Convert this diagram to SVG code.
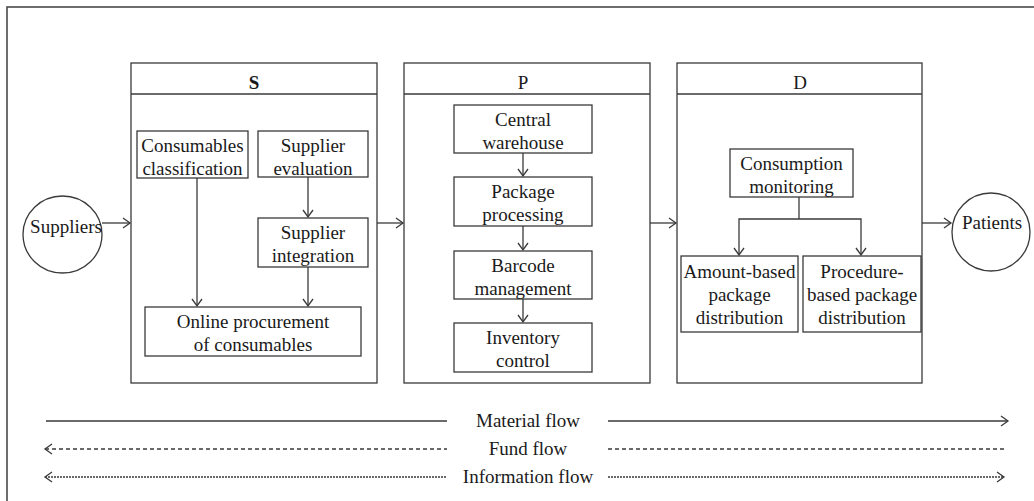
<svg xmlns="http://www.w3.org/2000/svg" width="1034" height="501" viewBox="0 0 1034 501">
<style>
.b{fill:#fff;stroke:#3a3a3a;stroke-width:1.3}
.t{font-family:"Liberation Serif","Times New Roman",serif;font-size:19px;fill:#1a1a1a;text-anchor:middle}
.c{fill:none;stroke:#3a3a3a;stroke-width:1.3}
.ar{marker-end:url(#ah)}
</style>
<defs>
<marker id="ah" markerUnits="userSpaceOnUse" markerWidth="12" markerHeight="12" refX="9" refY="6" orient="auto">
<path d="M2,1 L9,6 L2,11" fill="none" stroke="#3a3a3a" stroke-width="1.3"/>
</marker>
<marker id="ahs" markerUnits="userSpaceOnUse" markerWidth="12" markerHeight="12" refX="9" refY="6" orient="auto-start-reverse">
<path d="M2,1 L9,6 L2,11" fill="none" stroke="#3a3a3a" stroke-width="1.3"/>
</marker>
</defs>
<rect width="1034" height="501" fill="#fff"/>
<rect x="7" y="7" width="1040" height="510" fill="none" stroke="#4a4a4a" stroke-width="1.6"/>

<g id="suppliers">
<ellipse class="b" cx="62.5" cy="234.5" rx="39.5" ry="38.5"/>
<text class="t" x="66" y="233">Suppliers</text>
</g>
<g id="patients">
<ellipse class="b" cx="991" cy="232" rx="39" ry="39"/>
<text class="t" x="992" y="229">Patients</text>
</g>

<g id="panel-S">
<rect class="b" x="131" y="63" width="246" height="320"/>
<line class="c" x1="131" y1="94" x2="377" y2="94"/>
<text class="t" x="254" y="89" font-weight="bold">S</text>
</g>
<g id="panel-P">
<rect class="b" x="404" y="63" width="246" height="320"/>
<line class="c" x1="404" y1="94" x2="650" y2="94"/>
<text class="t" x="523" y="89">P</text>
</g>
<g id="panel-D">
<rect class="b" x="677" y="63" width="245" height="320"/>
<line class="c" x1="677" y1="94" x2="922" y2="94"/>
<text class="t" x="800" y="89">D</text>
</g>

<g id="consumables-classification">
<rect class="b" x="137" y="131" width="111" height="47"/>
<text class="t" x="192.5" y="152">Consumables</text>
<text class="t" x="192.5" y="175">classification</text>
</g>
<g id="supplier-evaluation">
<rect class="b" x="258" y="131" width="110" height="46"/>
<text class="t" x="313" y="152">Supplier</text>
<text class="t" x="313" y="175">evaluation</text>
</g>
<g id="supplier-integration">
<rect class="b" x="258" y="218" width="110" height="49"/>
<text class="t" x="313" y="239">Supplier</text>
<text class="t" x="313" y="262">integration</text>
</g>
<g id="online-procurement">
<rect class="b" x="145" y="307" width="216" height="49"/>
<text class="t" x="253" y="328">Online procurement</text>
<text class="t" x="253" y="351">of consumables</text>
</g>

<g id="central-warehouse">
<rect class="b" x="454" y="105" width="138" height="48"/>
<text class="t" x="523" y="126">Central</text>
<text class="t" x="523" y="149">warehouse</text>
</g>
<g id="package-processing">
<rect class="b" x="454" y="177" width="138" height="49"/>
<text class="t" x="523" y="198">Package</text>
<text class="t" x="523" y="221">processing</text>
</g>
<g id="barcode-management">
<rect class="b" x="454" y="251" width="138" height="48"/>
<text class="t" x="523" y="272">Barcode</text>
<text class="t" x="523" y="295">management</text>
</g>
<g id="inventory-control">
<rect class="b" x="454" y="323" width="138" height="49"/>
<text class="t" x="523" y="344">Inventory</text>
<text class="t" x="523" y="367">control</text>
</g>

<g id="consumption-monitoring">
<rect class="b" x="730" y="149" width="123" height="48"/>
<text class="t" x="791.5" y="170">Consumption</text>
<text class="t" x="791.5" y="193">monitoring</text>
</g>
<g id="amount-based">
<rect class="b" x="681" y="256" width="117" height="76"/>
<text class="t" x="739.5" y="278">Amount-based</text>
<text class="t" x="739.5" y="301">package</text>
<text class="t" x="739.5" y="324">distribution</text>
</g>
<g id="procedure-based">
<rect class="b" x="803" y="256" width="118" height="76"/>
<text class="t" x="862" y="278">Procedure-</text>
<text class="t" x="862" y="301">based package</text>
<text class="t" x="862" y="324">distribution</text>
</g>

<g id="connectors">
<line class="c ar" x1="102" y1="223" x2="130" y2="223"/>
<line class="c ar" x1="377" y1="223" x2="403" y2="223"/>
<line class="c ar" x1="650" y1="223" x2="676" y2="223"/>
<line class="c ar" x1="922" y1="223" x2="951" y2="223"/>
<line class="c ar" x1="197" y1="178" x2="197" y2="306"/>
<line class="c ar" x1="308" y1="177" x2="308" y2="217"/>
<line class="c ar" x1="308" y1="267" x2="308" y2="306"/>
<line class="c ar" x1="523" y1="153" x2="523" y2="176"/>
<line class="c ar" x1="523" y1="226" x2="523" y2="250"/>
<line class="c ar" x1="523" y1="299" x2="523" y2="322"/>
<polyline class="c" points="799,197 799,219"/>
<polyline class="c ar" points="799,219 739,219 739,255"/>
<polyline class="c ar" points="799,219 861,219 861,255"/>
</g>

<g id="flows">
<line class="c" x1="46" y1="421" x2="447" y2="421"/>
<line class="c ar" x1="608" y1="421" x2="1008" y2="421"/>
<line class="c" x1="45" y1="449" x2="447" y2="449" stroke-dasharray="4,3" marker-start="url(#ahs)"/>
<line class="c" x1="608" y1="449" x2="1006" y2="449" stroke-dasharray="4,3"/>
<line class="c" x1="45" y1="477" x2="447" y2="477" stroke-dasharray="2,1" stroke-width="1" marker-start="url(#ahs)"/>
<line class="c ar" x1="608" y1="477" x2="1004" y2="477" stroke-dasharray="2,1" stroke-width="1"/>
<text class="t" x="528" y="427">Material flow</text>
<text class="t" x="528" y="455">Fund flow</text>
<text class="t" x="528" y="483">Information flow</text>
</g>
</svg>
